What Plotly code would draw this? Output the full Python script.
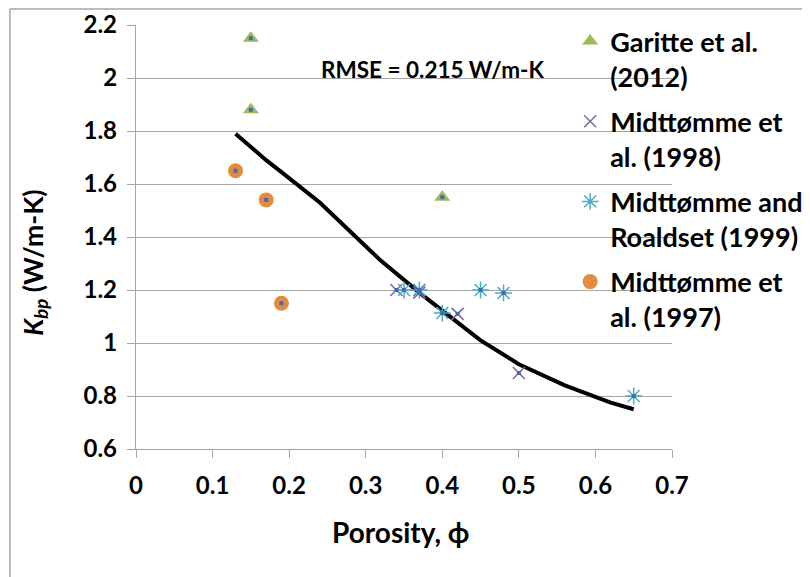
import plotly.graph_objects as go

# ---- data ----
garitte_phi = [0.15, 0.15, 0.40]
garitte_k = [2.15, 1.88, 1.55]

m1998_phi = [0.34, 0.37, 0.37, 0.42, 0.50]
m1998_k = [1.20, 1.20, 1.19, 1.11, 0.887]

m1999_phi = [0.35, 0.37, 0.40, 0.45, 0.48, 0.65]
m1999_k = [1.20, 1.20, 1.113, 1.20, 1.189, 0.80]

m1997_phi = [0.13, 0.17, 0.19]
m1997_k = [1.65, 1.54, 1.15]

curve_phi = [0.13, 0.17, 0.19, 0.24, 0.32, 0.37, 0.45, 0.50, 0.56, 0.62, 0.65]
curve_k = [1.79, 1.69, 1.645, 1.53, 1.31, 1.19, 1.01, 0.92, 0.84, 0.775, 0.75]

x_ticks = [0, 0.1, 0.2, 0.3, 0.4, 0.5, 0.6, 0.7]
x_labels = ["0", "0.1", "0.2", "0.3", "0.4", "0.5", "0.6", "0.7"]
y_ticks = [0.6, 0.8, 1.0, 1.2, 1.4, 1.6, 1.8, 2.0, 2.2]
y_labels = ["0.6", "0.8", "1", "1.2", "1.4", "1.6", "1.8", "2", "2.2"]

FONT = "Lato"
GRID = "#A6A6A6"

fig = go.Figure()

fig.add_trace(go.Scatter(
    x=curve_phi, y=curve_k, mode="lines", showlegend=False,
    line=dict(color="black", width=4), hoverinfo="skip"))

fig.add_trace(go.Scatter(
    x=garitte_phi, y=garitte_k, mode="markers", name="Garitte et al.<br>(2012)",
    legendgroup="g1",
    marker=dict(symbol="triangle-up", size=14, color="#9BBB59")))
fig.add_trace(go.Scatter(
    x=m1998_phi, y=m1998_k, mode="markers", name="Midttømme et<br>al. (1998)",
    legendgroup="g2",
    marker=dict(symbol="x-thin", size=12, color="#8064A2",
                line=dict(color="#8064A2", width=1.5))))
fig.add_trace(go.Scatter(
    x=m1999_phi, y=m1999_k, mode="markers", name="Midttømme and<br>Roaldset (1999)",
    legendgroup="g3",
    marker=dict(symbol="asterisk", size=14, color="#4BACC6",
                line=dict(color="#4BACC6", width=1.5))))
fig.add_trace(go.Scatter(
    x=m1997_phi, y=m1997_k, mode="markers", name="Midttømme et<br>al. (1997)",
    legendgroup="g4",
    marker=dict(symbol="circle", size=15, color="#E38B3F")))

# small blue centre dots on every measured point
fig.add_trace(go.Scatter(
    x=garitte_phi + m1998_phi + m1999_phi + m1997_phi,
    y=garitte_k + m1998_k + m1999_k + m1997_k,
    mode="markers", showlegend=False, hoverinfo="skip",
    marker=dict(symbol="square", size=4, color="#3F6DB5")))

fig.update_layout(
    width=810, height=577,
    margin=dict(l=128, r=146, t=17, b=136, autoexpand=False),
    paper_bgcolor="white", plot_bgcolor="white",
    font=dict(family=FONT, color="black", size=22, weight="bold"),
    showlegend=True,
    legend=dict(x=0.81, y=1.019, xanchor="left", yanchor="top",
                bgcolor="rgba(0,0,0,0)", valign="top",
                font=dict(family=FONT, size=27, weight="bold"),
                tracegroupgap=7, itemwidth=30, maxheight=540),
    xaxis=dict(range=[0, 0.7], tickvals=x_ticks, ticktext=x_labels,
               showgrid=False, zeroline=False,
               showline=True, linecolor=GRID, linewidth=1.3,
               ticks="outside", ticklen=8, tickcolor=GRID, tickwidth=1.3,
               tickfont=dict(family=FONT, size=24, weight="bold"),
               ticklabelstandoff=7),
    yaxis=dict(range=[0.6, 2.2], tickvals=y_ticks, ticktext=y_labels,
               showgrid=True, gridcolor=GRID, gridwidth=1.3, zeroline=False,
               showline=True, linecolor=GRID, linewidth=1.3,
               ticks="outside", ticklen=8, tickcolor=GRID, tickwidth=1.3,
               tickfont=dict(family=FONT, size=24, weight="bold"),
               ticklabelstandoff=5),
    annotations=[
        dict(text="RMSE = 0.215 W/m-K", xref="paper", yref="paper",
             x=0.554, y=0.894, xanchor="center", yanchor="middle", showarrow=False,
             font=dict(family=FONT, size=22.5, weight="bold")),
        dict(text="Porosity, ϕ", xref="paper", yref="paper",
             x=0.494, y=-0.196, xanchor="center", yanchor="middle", showarrow=False,
             font=dict(family=FONT, size=28, weight="bold")),
        dict(text="<i>K</i><sub><i>bp</i></sub> (W/m-K)", xref="paper", yref="paper",
             x=-0.188, y=0.44, xanchor="center", yanchor="middle",
             showarrow=False, textangle=-90,
             font=dict(family=FONT, size=26.5, weight="bold")),
    ],
    shapes=[
        dict(type="line", xref="paper", yref="paper",
             x0=-0.2351, x1=-0.2351, y0=1.0377, y1=-0.5,
             line=dict(color=GRID, width=1.5)),
        dict(type="line", xref="paper", yref="paper",
             x0=-0.2351, x1=1.5, y0=1.0377, y1=1.0377,
             line=dict(color=GRID, width=1.5)),
    ],
)

fig.write_html("out.html")
